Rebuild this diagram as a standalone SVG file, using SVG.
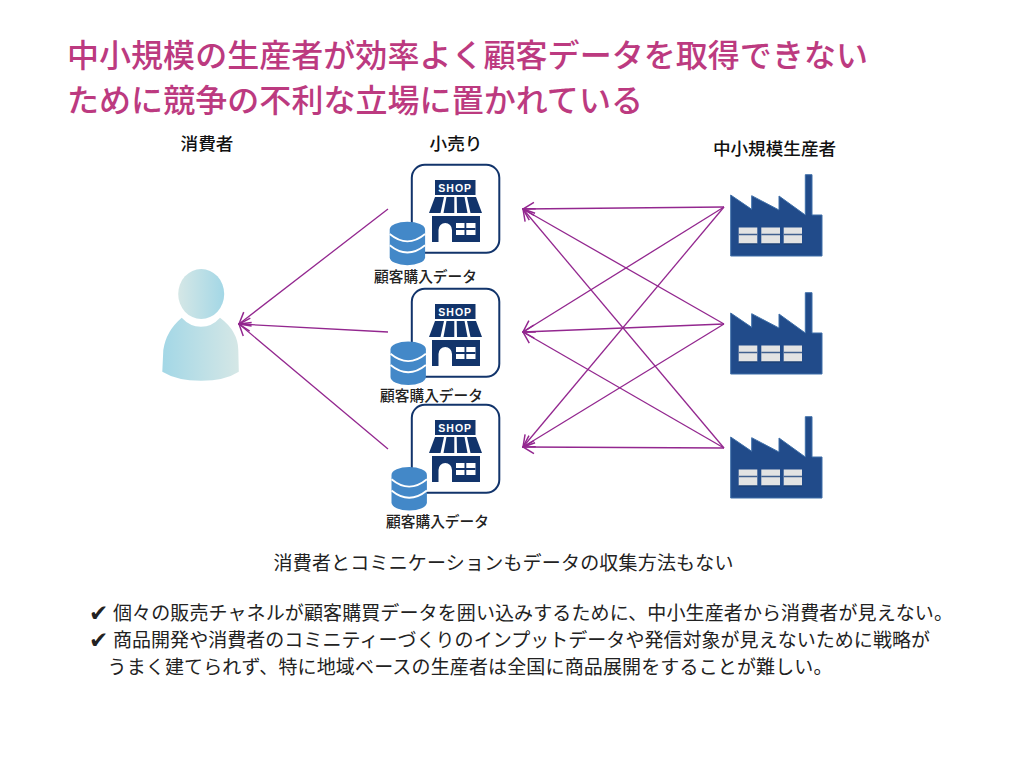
<svg xmlns="http://www.w3.org/2000/svg" xmlns:xlink="http://www.w3.org/1999/xlink" width="1024" height="768" viewBox="0 0 1024 768">
<style>
text{font-family:"Noto Sans CJK JP","Noto Sans",sans-serif;fill:#222}
.title{font-size:32px;font-weight:500;fill:#bc3a80}
.head{font-size:17.6px;font-weight:500;fill:#111}
.lab{font-size:14.7px;font-weight:500;fill:#222}
.body{font-size:19px}
.check{font-family:"DejaVu Sans",sans-serif;font-size:23px}
.conn line{stroke:#93278f;stroke-width:1.3;fill:none;marker-end:url(#arr)}
</style>
<defs>
<marker id="arr" markerUnits="userSpaceOnUse" markerWidth="16" markerHeight="16" refX="15" refY="8" orient="auto" viewBox="0 0 16 16">
<path d="M4 1.500L15 8L4 14.500" fill="none" stroke="#93278f" stroke-width="1.500"/>
</marker>
<linearGradient id="gHead"><stop offset="0" stop-color="#d5e7e6"/><stop offset="1" stop-color="#a3d7e6"/></linearGradient>
<linearGradient id="gBody"><stop offset="0" stop-color="#a3d7e6"/><stop offset="1" stop-color="#d5e7e6"/></linearGradient>
<g id="shop">
<rect x="0.800" y="0.800" width="87.500" height="88" rx="13" fill="#fff" stroke="#12346b" stroke-width="2"/>
<rect x="24" y="16" width="40.500" height="15" fill="#12346b"/>
<text x="44.200" y="27.500" text-anchor="middle" style="font-family:'Liberation Sans',sans-serif;font-size:10.500px;font-weight:700;fill:#fff;letter-spacing:1px">SHOP</text>
<path d="M24 33H33L29.500 49H18ZM35.500 33H43.300V49H32.500ZM45.700 33H53.500L56.500 49H46ZM56 33H65L71 49H59.500Z" fill="#12346b"/>
<path fill-rule="evenodd" fill="#12346b" d="M21 52H69V78H21ZM27.500 78H41V66A6.750 7 0 0 0 27.500 66ZM45 59V71H64.500V59Z"/>
<path d="M54.400 59V71M45 65H64.500" stroke="#12346b" stroke-width="1.800"/>
</g>
<g id="db">
<path d="M0 8A17.700 8 0 0 1 35.400 8V35.500A17.700 8 0 0 1 0 35.500Z" fill="#4388c8"/>
<path d="M0 12.300Q17.700 27 35.400 12.300M0 23.500Q17.700 38 35.400 23.500" fill="none" stroke="#fff" stroke-width="1.800"/>
</g>
<g id="factory">
<path d="M0.700 21L21.700 35.300V21.700L49 36V22L75.300 41V0.700H82V41H92V82H0.700Z" fill="#214b8a" stroke="#3f6fa8" stroke-width="1"/>
<path d="M8.700 53.500H27.300V69.500H8.700ZM31.300 53.500H50V69.500H31.300ZM53.700 53.500H72V69.500H53.700Z" fill="#e3e3e3"/>
<path d="M8.700 60.500H27.300M31.300 60.500H50M53.700 60.500H72" stroke="#41608f" stroke-width="1.500"/>
<path d="M8.700 70H27.300M31.300 70H50M53.700 70H72" stroke="#1a3a68" stroke-width="1"/>
</g>
</defs>
<rect width="1024" height="768" fill="#fff"/>
<g id="title">
<text class="title" x="67" y="67" textLength="801">中小規模の生産者が効率よく顧客データを取得できない</text>
<text class="title" x="67" y="112" textLength="576">ために競争の不利な立場に置かれている</text>
</g>
<g id="consumer">
<text class="head" x="207" y="150" text-anchor="middle">消費者</text>
<ellipse cx="201.200" cy="294" rx="23" ry="25" fill="url(#gHead)"/>
<path d="M181.700 317.700Q190 326.700 201 326.700Q212 326.700 220 317.700Q238 331 238.300 350L238.800 371.700Q225 380.700 201 380.700Q177 380.700 162.300 371.700L163.300 350Q166 331 181.700 317.700Z" fill="url(#gBody)"/>
</g>
<g id="retail-head"><text class="head" x="456" y="150" text-anchor="middle">小売り</text></g>
<g id="producer-head"><text class="head" x="774.500" y="155" text-anchor="middle">中小規模生産者</text></g>
<g id="shop1"><use href="#shop" x="411" y="164"/><use href="#db" x="389.700" y="221.700"/><text class="lab" x="425.500" y="282" text-anchor="middle">顧客購入データ</text></g>
<g id="shop2"><use href="#shop" x="411" y="288"/><use href="#db" x="390.500" y="341.500"/><text class="lab" x="431.500" y="401" text-anchor="middle">顧客購入データ</text></g>
<g id="shop3"><use href="#shop" x="411" y="404"/><use href="#db" x="391.500" y="467"/><text class="lab" x="437.500" y="527" text-anchor="middle">顧客購入データ</text></g>
<g id="factory1"><use href="#factory" x="730" y="174"/></g>
<g id="factory2"><use href="#factory" x="730" y="292"/></g>
<g id="factory3"><use href="#factory" x="730" y="416"/></g>
<g id="connectors" class="conn">
<line x1="388" y1="209" x2="239" y2="324"/>
<line x1="388" y1="332" x2="239" y2="324"/>
<line x1="388" y1="449" x2="239" y2="324"/>
<line x1="724" y1="207" x2="523" y2="209"/>
<line x1="724" y1="207" x2="523" y2="332"/>
<line x1="724" y1="207" x2="523" y2="447"/>
<line x1="724" y1="324" x2="523" y2="209"/>
<line x1="724" y1="324" x2="523" y2="332"/>
<line x1="724" y1="324" x2="523" y2="447"/>
<line x1="724" y1="448" x2="523" y2="209"/>
<line x1="724" y1="448" x2="523" y2="332"/>
<line x1="724" y1="448" x2="523" y2="447"/>
</g>
<g id="notes">
<text class="body" x="273.500" y="570" textLength="460">消費者とコミニケーションもデータの収集方法もない</text>
<text class="check" x="89" y="621">✔</text>
<text class="body" x="113" y="620" textLength="840">個々の販売チャネルが顧客購買データを囲い込みするために、中小生産者から消費者が見えない。</text>
<text class="check" x="89" y="648">✔</text>
<text class="body" x="113" y="647" textLength="817">商品開発や消費者のコミニティーづくりのインプットデータや発信対象が見えないために戦略が</text>
<text class="body" x="107.500" y="674" textLength="725">うまく建てられず、特に地域ベースの生産者は全国に商品展開をすることが難しい。</text>
</g>
</svg>
